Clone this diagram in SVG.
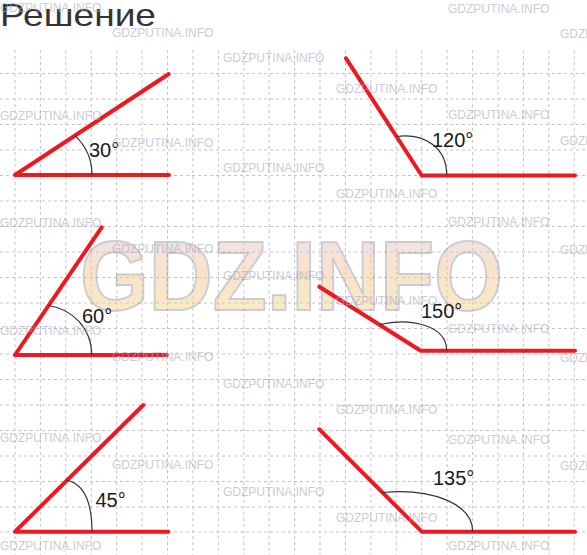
<svg xmlns="http://www.w3.org/2000/svg" width="587" height="555" viewBox="0 0 587 555">
<defs>
<style>
.grid line{stroke:#c4c4c4;stroke-width:1;stroke-dasharray:3 3}
.ray{stroke:#ee1820;stroke-width:4;stroke-linecap:round;fill:none}
.arc{stroke:#333;stroke-width:1.2;fill:none}
.lbl{font-family:"Liberation Sans",Arial,sans-serif;font-size:20px;fill:#1a1a1a}
.wm{font-family:"Liberation Sans",Arial,sans-serif;font-size:12px;fill:#a9a9c4;opacity:.6}
.title{font-family:"Liberation Sans",Arial,sans-serif;font-size:32px;fill:#333}
</style>
<linearGradient id="bigg" x1="0" y1="0" x2="0" y2="1">
<stop offset="0" stop-color="#d8cbe8"/>
<stop offset="0.45" stop-color="#f5c79a"/>
<stop offset="1" stop-color="#f3df86"/>
</linearGradient>
</defs>
<rect width="587" height="555" fill="#fff"/>
<g id="grid" class="grid">
<line x1="15" y1="50" x2="15" y2="555"/><line x1="40.4" y1="50" x2="40.4" y2="555"/><line x1="65.8" y1="50" x2="65.8" y2="555"/><line x1="91.3" y1="50" x2="91.3" y2="555"/><line x1="116.7" y1="50" x2="116.7" y2="555"/><line x1="142.1" y1="50" x2="142.1" y2="555"/><line x1="167.5" y1="50" x2="167.5" y2="555"/><line x1="192.9" y1="50" x2="192.9" y2="555"/><line x1="218.4" y1="50" x2="218.4" y2="555"/><line x1="243.8" y1="50" x2="243.8" y2="555"/><line x1="269.2" y1="50" x2="269.2" y2="555"/><line x1="294.6" y1="50" x2="294.6" y2="555"/><line x1="320" y1="50" x2="320" y2="555"/><line x1="345.5" y1="50" x2="345.5" y2="555"/><line x1="370.9" y1="50" x2="370.9" y2="555"/><line x1="396.3" y1="50" x2="396.3" y2="555"/><line x1="421.7" y1="50" x2="421.7" y2="555"/><line x1="447.1" y1="50" x2="447.1" y2="555"/><line x1="472.6" y1="50" x2="472.6" y2="555"/><line x1="498" y1="50" x2="498" y2="555"/><line x1="523.4" y1="50" x2="523.4" y2="555"/><line x1="548.8" y1="50" x2="548.8" y2="555"/><line x1="574.2" y1="50" x2="574.2" y2="555"/>
<line x1="0" y1="73.5" x2="587" y2="73.5"/><line x1="0" y1="99" x2="587" y2="99"/><line x1="0" y1="124.5" x2="587" y2="124.5"/><line x1="0" y1="150" x2="587" y2="150"/><line x1="0" y1="175.5" x2="587" y2="175.5"/><line x1="0" y1="201" x2="587" y2="201"/><line x1="0" y1="226.5" x2="587" y2="226.5"/><line x1="0" y1="252" x2="587" y2="252"/><line x1="0" y1="277.5" x2="587" y2="277.5"/><line x1="0" y1="303" x2="587" y2="303"/><line x1="0" y1="328.5" x2="587" y2="328.5"/><line x1="0" y1="354" x2="587" y2="354"/><line x1="0" y1="379.5" x2="587" y2="379.5"/><line x1="0" y1="405" x2="587" y2="405"/><line x1="0" y1="430.5" x2="587" y2="430.5"/><line x1="0" y1="456" x2="587" y2="456"/><line x1="0" y1="481.5" x2="587" y2="481.5"/><line x1="0" y1="507" x2="587" y2="507"/><line x1="0" y1="532" x2="587" y2="532"/>
</g>
<text class="title" x="0" y="26" textLength="156" lengthAdjust="spacingAndGlyphs">Решение</text>
<g id="watermark-big" opacity="0.5">
<text x="80" y="310" font-family="Liberation Sans,Arial,sans-serif" font-weight="bold" font-size="98" textLength="423" lengthAdjust="spacingAndGlyphs" fill="url(#bigg)" stroke="#9a9aa8" stroke-width="2">GDZ.INFO</text>
</g>
<g id="angle-30">
<path class="ray" d="M15 175 L169 175 M15 175 L168.7 74"/>
<path class="arc" d="M75 135.6 C85 145 92 158 92 175"/>
<text class="lbl" x="89" y="157">30°</text>
</g>
<g id="angle-120">
<path class="ray" d="M421.7 175.5 L575 175.5 M421.7 175.5 L346 58.3"/>
<path class="arc" d="M396.7 136.5 C425 133 446.7 148 446.7 175"/>
<text class="lbl" x="432" y="147">120°</text>
</g>
<g id="angle-60">
<path class="ray" d="M15 355 L166.7 355 M15 355 L101.7 227.3"/>
<path class="arc" d="M48.3 305.5 C72 309 91.7 328 91.7 355"/>
<text class="lbl" x="82" y="323">60°</text>
</g>
<g id="angle-150">
<path class="ray" d="M420.7 350.7 L575 350.7 M420.7 350.7 L319.3 286.7"/>
<path class="arc" d="M379.3 324.5 C412 317 446.7 326 446.7 350.7"/>
<text class="lbl" x="421" y="318">150°</text>
</g>
<g id="angle-45">
<path class="ray" d="M15 531.7 L168.3 531.7 M15 531.7 L143.3 405"/>
<path class="arc" d="M66.7 480.2 C84 484 92 503 92 531.7"/>
<text class="lbl" x="95.5" y="506.5">45°</text>
</g>
<g id="angle-135">
<path class="ray" d="M421.7 531.7 L575 531.7 M421.7 531.7 L319.3 429.3"/>
<path class="arc" d="M382.5 492.5 C430 488 472.7 503 472.7 531.7"/>
<text class="lbl" x="433" y="485">135°</text>
</g>
<g id="watermarks" class="wm">
<text x="0" y="12">GDZPUTINA.INFO</text><text x="0" y="119.5">GDZPUTINA.INFO</text><text x="0" y="227">GDZPUTINA.INFO</text><text x="0" y="334.5">GDZPUTINA.INFO</text><text x="0" y="442">GDZPUTINA.INFO</text><text x="0" y="549.5">GDZPUTINA.INFO</text>
<text x="112" y="37">GDZPUTINA.INFO</text><text x="112" y="147">GDZPUTINA.INFO</text><text x="112" y="253">GDZPUTINA.INFO</text><text x="112" y="361">GDZPUTINA.INFO</text><text x="112" y="468.5">GDZPUTINA.INFO</text>
<text x="223" y="61.5">GDZPUTINA.INFO</text><text x="223" y="172">GDZPUTINA.INFO</text><text x="223" y="279.5">GDZPUTINA.INFO</text><text x="223" y="388">GDZPUTINA.INFO</text><text x="223" y="495.5">GDZPUTINA.INFO</text>
<text x="336" y="92.5">GDZPUTINA.INFO</text><text x="336" y="197.5">GDZPUTINA.INFO</text><text x="336" y="304.5">GDZPUTINA.INFO</text><text x="336" y="414">GDZPUTINA.INFO</text><text x="336" y="522">GDZPUTINA.INFO</text>
<text x="448" y="13">GDZPUTINA.INFO</text><text x="448" y="118.5">GDZPUTINA.INFO</text><text x="448" y="226">GDZPUTINA.INFO</text><text x="448" y="332.5">GDZPUTINA.INFO</text><text x="448" y="444">GDZPUTINA.INFO</text><text x="448" y="549.5">GDZPUTINA.INFO</text>
<text x="560" y="38">GDZPUTINA.INFO</text><text x="560" y="144.5">GDZPUTINA.INFO</text><text x="560" y="254">GDZPUTINA.INFO</text><text x="560" y="362">GDZPUTINA.INFO</text><text x="560" y="470">GDZPUTINA.INFO</text>
</g>
</svg>
